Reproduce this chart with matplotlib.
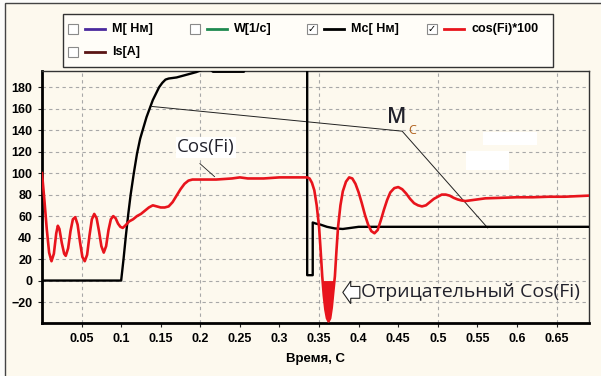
import matplotlib.pyplot as plt
from matplotlib.patches import Rectangle, FancyArrow
from matplotlib.lines import Line2D

# время, с -> cos(Fi)*100
t_cos = [0.000, 0.003, 0.006, 0.009, 0.012, 0.015, 0.018, 0.020, 0.022, 0.025,
         0.028, 0.030, 0.033, 0.036, 0.039, 0.042, 0.045, 0.048, 0.051, 0.054,
         0.057, 0.060, 0.063, 0.066, 0.069, 0.072, 0.075, 0.078, 0.081, 0.084,
         0.087, 0.090, 0.093, 0.096, 0.099, 0.102, 0.105, 0.110, 0.115, 0.120,
         0.125, 0.130, 0.135, 0.140, 0.145, 0.150, 0.155, 0.160, 0.165, 0.170,
         0.175, 0.180, 0.185, 0.190, 0.200, 0.220, 0.240, 0.250, 0.260, 0.280,
         0.300, 0.320, 0.335, 0.338, 0.341, 0.344, 0.347, 0.350, 0.352, 0.354,
         0.356, 0.358, 0.360, 0.362, 0.364, 0.366, 0.368, 0.370, 0.372, 0.374,
         0.377, 0.380, 0.384, 0.388, 0.392, 0.396, 0.400, 0.404, 0.408, 0.412,
         0.416, 0.420, 0.424, 0.428, 0.432, 0.436, 0.440, 0.445, 0.450, 0.455,
         0.460, 0.465, 0.470, 0.475, 0.480, 0.485, 0.490, 0.495, 0.500, 0.505,
         0.510, 0.515, 0.520, 0.525, 0.530, 0.535, 0.540, 0.550, 0.560, 0.580,
         0.600, 0.620, 0.640, 0.660, 0.690]
cos_fi = [100, 75, 48, 26, 18, 25, 44, 51, 48, 35,
          25, 23, 30, 46, 57, 59, 52, 36, 22, 18,
          24, 42, 57, 62, 58, 46, 32, 26, 32, 47,
          57, 60, 58, 53, 50, 49, 51, 55, 57, 60,
          62, 65, 68, 70, 69, 68, 68, 69, 73, 79,
          85, 90, 93, 94, 94, 94, 95, 96, 95, 95,
          96, 96, 96, 95, 91, 84, 70, 50, 28, 4,
          -14, -27, -35, -38, -35, -25, -10, 4, 28, 50,
          70, 83, 92, 96, 95, 90, 82, 72, 61, 52,
          46, 44, 47, 56, 66, 75, 82, 86, 87, 85,
          81, 76, 72, 70, 69, 70, 73, 76, 78, 80,
          80, 79, 77, 75.5, 74.5, 74, 74.5, 75.5, 76.5, 77,
          77.5, 77.5, 78, 78, 79]

# время, с -> Mc, Нм
t_mc = [0.000, 0.100, 0.103, 0.106, 0.109, 0.112, 0.116, 0.120, 0.124, 0.128,
        0.132, 0.136, 0.140, 0.144, 0.148, 0.152, 0.156, 0.160, 0.165, 0.170,
        0.175, 0.180, 0.185, 0.190, 0.195, 0.200, 0.205, 0.212, 0.216, 0.255,
        0.258, 0.335, 0.335, 0.342, 0.342, 0.346, 0.352, 0.360, 0.370, 0.380,
        0.390, 0.400, 0.690]
mc = [0, 0, 20, 42, 62, 80, 100, 118, 132, 142,
      152, 160, 168, 174, 180, 184, 187, 188, 188.5, 189,
      190, 191, 192, 193, 194, 195.5, 197, 197, 194.3, 194.3,
      200, 200, 5, 5, 54, 53, 52, 50, 48.5, 48,
      49, 50, 50]

# линейная характеристика Mc
t_mc_lin = [0.139, 0.455, 0.563]
mc_lin = [162, 139, 49]

legend_names = ["M[ Нм]", "W[1/с]", "Mс[ Нм]", "cos(Fi)*100", "Is[A]"]
legend_colors = ["#4b2a9e", "#1f8a50", "#000000", "#e8141c", "#5a1414"]
legend_checked = [False, False, True, True, False]
legend_pos = [(68, 29), (190, 29), (307, 29), (427, 29), (68, 52)]

x_ticks = [0.05, 0.1, 0.15, 0.2, 0.25, 0.3, 0.35, 0.4, 0.45, 0.5, 0.55, 0.6, 0.65]
x_labels = ["0.05", "0.1", "0.15", "0.2", "0.25", "0.3", "0.35", "0.4", "0.45",
            "0.5", "0.55", "0.6", "0.65"]
y_ticks = [-20, 0, 20, 40, 60, 80, 100, 120, 140, 160, 180]
x_grid = [0.05, 0.2, 0.35, 0.5, 0.65]

W, H = 601, 376
cream = "#fdf9ee"


def px(x, y):
    # пиксели -> доли фигуры
    return x / W, 1 - y / H


fig = plt.figure(figsize=(W / 100, H / 100), dpi=100, facecolor="#fcfcfa")

# рамка окна
fig.add_artist(Rectangle(px(5, 380), 1, 1 - 7 / H + 0.02, transform=fig.transFigure,
                         facecolor=cream, edgecolor="#444444", lw=1, zorder=-5))

ax = fig.add_axes([42 / W, 53 / H, 547 / W, 252 / H])
ax.set_facecolor(cream)
ax.set_xlim(0, 0.691)
ax.set_ylim(-39.5, 195)

for g in x_grid:
    ax.axvline(g, color="#a8a8a8", lw=0.8, ls=(0, (3, 3)), zorder=1)
for g in y_ticks:
    ax.axhline(g, color="#a8a8a8", lw=0.8, ls=(0, (3, 3)), zorder=1)

# белые пятна поверх сетки
ax.add_patch(Rectangle((0.557, 126.5), 0.068, 12, facecolor="white", edgecolor="none", zorder=1.5))
ax.add_patch(Rectangle((0.536, 103), 0.054, 18, facecolor="white", edgecolor="none", zorder=1.5))

ax.plot(t_mc_lin, mc_lin, color="#222222", lw=0.7, zorder=3)
ax.plot(t_mc, mc, color="black", lw=1.7, zorder=4)
ax.plot(t_cos, cos_fi, color="#e8141c", lw=1.9, zorder=5)
ax.fill_between(t_cos, cos_fi, 0, where=[v < 0 for v in cos_fi], interpolate=True,
                color="#e8141c", lw=0, zorder=5)

ax.set_xticks(x_ticks)
ax.set_xticklabels(x_labels)
ax.set_yticks(y_ticks)
ax.tick_params(axis="both", direction="out", length=3, width=0.8, pad=4,
               labelsize=9, colors="#222222")
for lab in ax.get_xticklabels() + ax.get_yticklabels():
    lab.set_fontweight("bold")
    lab.set_family("Liberation Sans")
    lab.set_color("black")
ax.set_xlabel("Время, С", fontsize=9.5, fontweight="bold", family="Liberation Sans", labelpad=6)

for side in ("left", "bottom"):
    ax.spines[side].set_linewidth(2)
    ax.spines[side].set_color("black")
for side in ("top", "right"):
    ax.spines[side].set_linewidth(1)
    ax.spines[side].set_color("#333333")

# подписи на графике
note = dict(family="Open Sans", color="#22222c")
ax.text(0.2072, 124, "Cos(Fi)", fontsize=13.5, ha="center", va="center", zorder=6,
        bbox=dict(facecolor="white", edgecolor="none", pad=1), **note)
ax.plot([0.1995, 0.218], [108.8, 96.7], color="#222222", lw=0.6, zorder=6)
ax.text(0.4485, 152, "M", fontsize=15, fontweight="semibold", ha="center", va="center",
        zorder=6, **note)
ax.text(0.468, 140, "C", fontsize=9, ha="center", va="center", zorder=6,
        family="Open Sans", color="#b0601c")
ax.text(0.4035, -11, "Отрицательный Cos(Fi)", fontsize=14, ha="left", va="center",
        zorder=6, **note)
ax.add_patch(FancyArrow(0.4015, -11, -0.0215, 0, width=11, head_width=21,
                        head_length=0.01, length_includes_head=True,
                        facecolor="white", edgecolor="#222222", lw=0.8, zorder=6))

# легенда
x0, y0 = px(63, 67)
x1, y1 = px(553, 14)
fig.add_artist(Rectangle((x0, y0), x1 - x0, y1 - y0, transform=fig.transFigure,
                         facecolor="#fffdf8", edgecolor="#333333", lw=1))
for name, col, chk, (cx, cy) in zip(legend_names, legend_colors, legend_checked, legend_pos):
    bx, by = px(cx, cy + 5)
    fig.add_artist(Rectangle((bx, by), 10 / W, 10 / H, transform=fig.transFigure,
                             facecolor="white", edgecolor="#8a8a8a", lw=0.8))
    if chk:
        fig.text(*px(cx + 5, cy), "✓", fontsize=7, fontweight="bold",
                 ha="center", va="center", family="DejaVu Sans")
    lx0, ly = px(cx + 17, cy)
    lx1, _ = px(cx + 37, cy)
    fig.add_artist(Line2D([lx0, lx1], [ly, ly], transform=fig.transFigure, color=col, lw=2))
    fig.text(*px(cx + 44, cy), name, fontsize=9, fontweight="bold",
             family="Liberation Sans", ha="left", va="center")

fig.savefig("out.png", dpi=100, facecolor=fig.get_facecolor())
